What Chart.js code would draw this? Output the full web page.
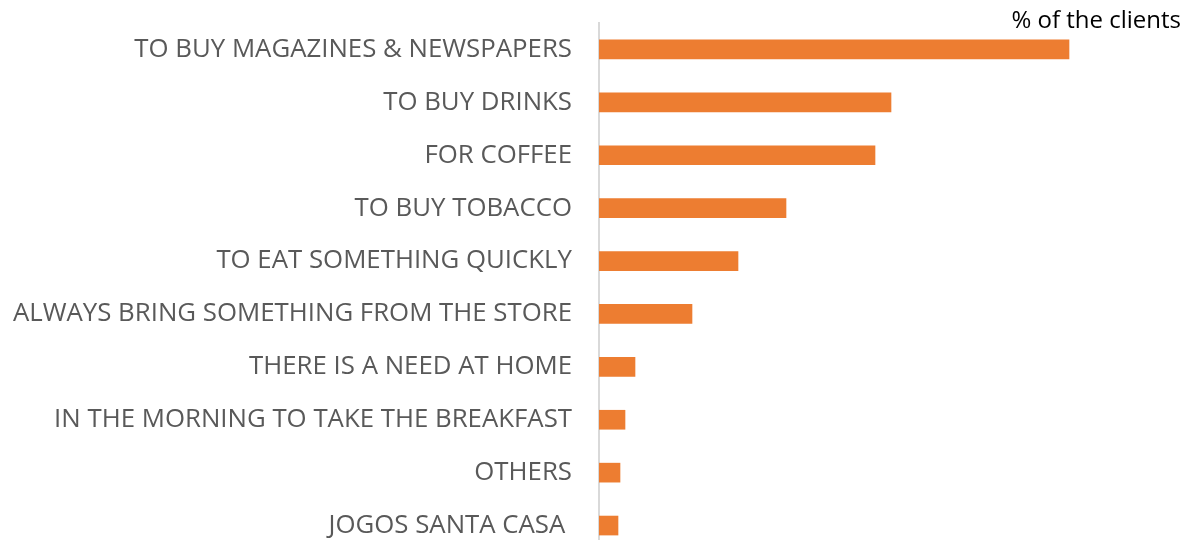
<!DOCTYPE html>
<html>
<head>
<meta charset="utf-8">
<script src="https://cdn.jsdelivr.net/npm/chart.js@4/dist/chart.umd.min.js"></script>
<style>
  html, body { margin: 0; padding: 0; background: #fff; overflow: hidden; }
  #wrap { width: 1196px; height: 540px; overflow: hidden; }
</style>
</head>
<body>
<div id="wrap"><canvas id="myChart" width="1196" height="560"></canvas></div>
<script>
// reasons given by the clients, top to bottom
const reasons = [
  'TO BUY MAGAZINES & NEWSPAPERS',
  'TO BUY DRINKS',
  'FOR COFFEE',
  'TO BUY TOBACCO',
  'TO EAT SOMETHING QUICKLY',
  'ALWAYS BRING SOMETHING FROM THE STORE',
  'THERE IS A NEED AT HOME',
  'IN THE MORNING TO TAKE THE BREAKFAST',
  'OTHERS',
  'JOGOS SANTA CASA '
];
// % of the clients
const clientPct = [47, 29.2, 27.6, 18.7, 13.9, 9.3, 3.6, 2.6, 2.1, 1.9];
const axisTitle = '% of the clients';

// draws the little caption in the top right corner
const cornerTitle = {
  id: 'cornerTitle',
  afterDraw(chart) {
    const ctx = chart.ctx;
    ctx.save();
    ctx.font = '24px "Open Sans"';
    ctx.fillStyle = '#000';
    ctx.textAlign = 'right';
    ctx.textBaseline = 'alphabetic';
    ctx.fillText(axisTitle, 1181, 28);
    ctx.restore();
  }
};

const config = {
  type: 'bar',
  data: {
    labels: reasons,
    datasets: [{
      label: axisTitle,
      data: clientPct,
      backgroundColor: '#ED7D31',
      barThickness: 19
    }]
  },
  options: {
    indexAxis: 'y',
    responsive: false,
    animation: false,
    layout: { padding: { top: 23, right: 6, bottom: 8, left: 0 } },
    plugins: { legend: { display: false }, tooltip: { enabled: false } },
    scales: {
      x: {
        display: false,
        min: 0,
        max: 59.1
      },
      y: {
        afterFit: (scale) => {
          scale.width = 599;
          scale.paddingTop = 0;
          scale.paddingBottom = 0;
        },
        grid: { display: false, drawTicks: false },
        border: { display: true, color: '#d9d9d9', width: 2 },
        ticks: {
          padding: 27,
          color: '#595959',
          font: { family: '"Open Sans"', size: 25.8 }
        }
      }
    }
  },
  plugins: [cornerTitle]
};

let myChart = new Chart(document.getElementById('myChart'), config);
</script>
</body>
</html>
